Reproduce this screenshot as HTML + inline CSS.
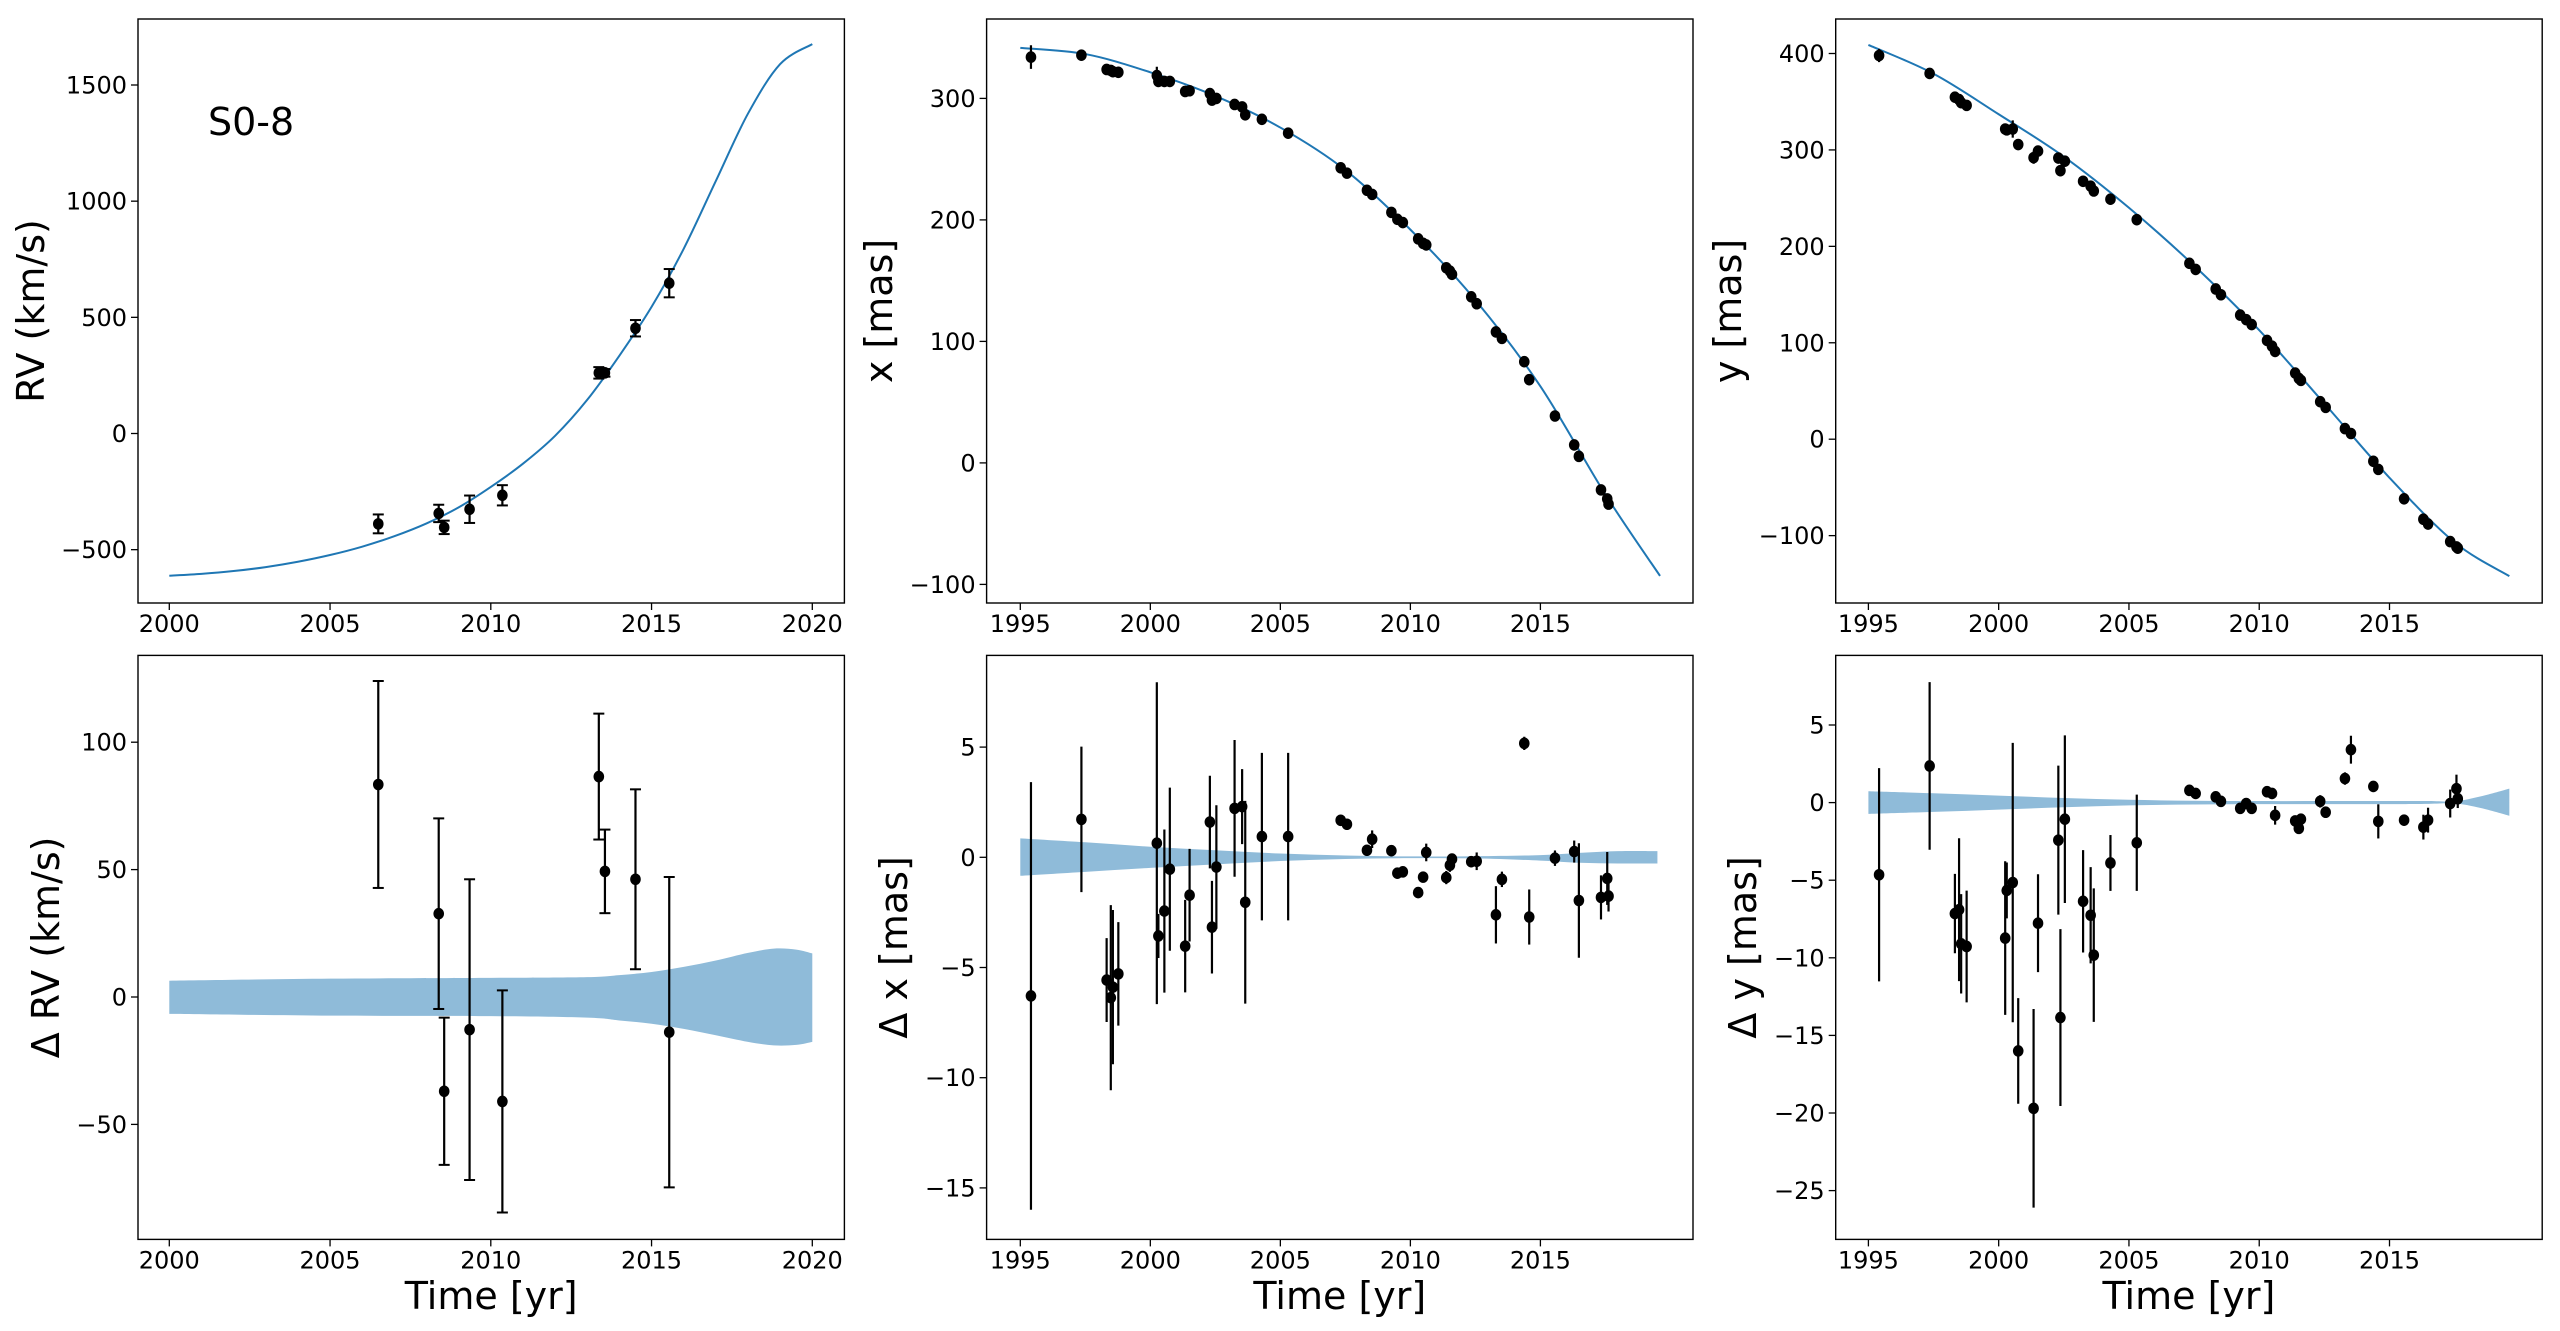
<!DOCTYPE html>
<html><head><meta charset="utf-8"><title>S0-8 orbit fit</title>
<style>
html,body{margin:0;padding:0;background:#fff;}
svg{display:block;font-family:"DejaVu Sans","Liberation Sans",sans-serif;}
</style></head>
<body>
<svg id="fig" width="2560" height="1331" viewBox="0 0 2560 1331" xmlns="http://www.w3.org/2000/svg"></svg>
<script>
// ---------- data ----------
const rvT = [2006.5, 2008.38, 2008.55, 2009.34, 2010.36, 2013.36, 2013.55, 2014.5, 2015.55];
const rvVal = [-389, -344, -404, -326, -266, 261, 261, 453, 647];
const rvErr = [40.6, 37.4, 28.9, 59, 43.6, 24.7, 16.4, 35.3, 60.9];
const drvVal = [83.4, 32.7, -37, -12.8, -41, 86.5, 49.3, 46.2, -13.8];

const rvModelT = [2000, 2001, 2002, 2003, 2004, 2005, 2006, 2007, 2008, 2009, 2010, 2011, 2012, 2013, 2014, 2015, 2016, 2017, 2018, 2019, 2020];
const rvModelV = [-612, -604, -592, -575, -552, -523, -487, -442, -387, -318, -230, -130, -10, 145, 335, 545, 795, 1087, 1377, 1590, 1676];
const rvBandT = [2000, 2005, 2010, 2013, 2014, 2015, 2016, 2017, 2018, 2018.8, 2019.5, 2020];
const rvBandHi = [6.4, 7.2, 7.5, 7.8, 8.6, 9.8, 11.8, 14.3, 17.3, 19, 18.6, 17.1];
const rvBandLo = [-6.6, -7.3, -7.5, -8.1, -9.2, -10.5, -12.5, -15, -17.6, -19, -18.8, -17.6];

const epochs = [1995.41,1997.35,1998.32,1998.48,1998.56,1998.77,2000.25,2000.31,2000.54,2000.75,2001.34,2001.51,2002.29,2002.37,2002.54,2003.24,2003.53,2003.65,2004.29,2005.3,2007.32,2007.56,2008.33,2008.53,2009.27,2009.5,2009.71,2010.3,2010.49,2010.61,2011.38,2011.52,2011.6,2012.34,2012.55,2013.29,2013.52,2014.38,2014.57,2015.56,2016.3,2016.48,2017.33,2017.57,2017.62];
const xVal = [334,335.6,323.8,323,322,321.5,318.8,314,314,314,305.7,306.3,304,298.6,300,295,293,286.5,282.8,271.4,242.9,238.5,224.4,221,206.2,200.5,197.8,184.4,180.7,179.4,160.6,157.9,155.2,136.7,131,107.8,102.5,83.3,68.5,38.6,14.8,5.4,-22.2,-29.6,-33.9];
const dxVal = [-6.29,1.72,-5.57,-6.37,-5.89,-5.29,0.64,-3.57,-2.44,-0.54,-4.03,-1.72,1.6,-3.17,-0.44,2.22,2.3,-2.04,0.94,0.94,1.68,1.5,0.32,0.82,0.3,-0.72,-0.66,-1.6,-0.9,0.22,-0.92,-0.36,-0.08,-0.2,-0.18,-2.61,-1.0,5.17,-2.71,-0.04,0.26,-1.96,-1.82,-0.96,-1.76];
const dxErr = [9.7,3.3,1.9,4.2,3.5,2.35,7.3,1.0,3.7,3.7,2.1,2.1,2.1,2.1,2.8,3.1,1.7,4.6,3.8,3.8,0.1,0.1,0.1,0.4,0.1,0.15,0.15,0.1,0.15,0.4,0.3,0.3,0.2,0.2,0.4,1.3,0.35,0.3,1.25,0.35,0.5,2.6,1.0,1.2,0.7];
const yVal = [397.9,379.3,354.7,352.2,349,346.2,321.7,320.8,321.7,305.6,292,298.8,291.6,278.5,288.3,267.5,262.4,257.4,248.9,227.7,182.4,176.1,155.8,149.8,128.7,124,118.9,102.4,96.5,91,68.6,63.1,61,38.9,33,11,5.9,-22.9,-31.3,-61.8,-83,-88,-106.2,-111.7,-113];
const dyVal = [-4.65,2.36,-7.15,-6.9,-9.1,-9.27,-8.73,-5.66,-5.15,-16.0,-19.7,-7.77,-2.42,-13.85,-1.07,-6.36,-7.26,-9.83,-3.89,-2.59,0.79,0.59,0.37,0.08,-0.37,-0.06,-0.37,0.7,0.59,-0.82,-1.18,-1.66,-1.07,0.08,-0.62,1.55,3.41,1.04,-1.21,-1.13,-1.58,-1.13,-0.06,0.9,0.25];
const dyErr = [6.87,5.4,2.56,4.6,3.2,3.6,4.95,1.8,9.0,3.4,6.4,3.15,4.8,5.7,5.4,3.3,3.1,4.3,1.8,3.1,0.2,0.2,0.2,0.2,0.2,0.2,0.2,0.2,0.2,0.6,0.3,0.3,0.3,0.4,0.2,0.4,0.9,0.2,1.1,0.3,0.8,0.8,0.9,0.9,0.6];

const xModelT = [1995, 1997.5, 2000, 2002.5, 2005, 2007.5, 2010, 2012.5, 2015, 2017.5, 2019.6];
const xModelV = [341.6, 336.5, 321.5, 302, 276, 241, 192, 134, 63, -26, -93];
const yModelT = [1995, 1997.5, 2000, 2002.5, 2005, 2007.5, 2010, 2012.5, 2015, 2017.5, 2019.6];
const yModelV = [408.9, 379, 337, 293, 240, 180, 113, 37, -40, -107, -142];

const dxBandT = [1995, 1997.5, 2000, 2002.5, 2005, 2007.5, 2010, 2012.5, 2015, 2016.5, 2018, 2019.5];
const dxBandHi = [0.86, 0.68, 0.48, 0.32, 0.17, 0.08, 0.04, 0.05, 0.1, 0.2, 0.28, 0.28];
const dxBandLo = [-0.84, -0.66, -0.48, -0.32, -0.17, -0.08, -0.04, -0.05, -0.15, -0.25, -0.28, -0.28];
const dyBandT = [1995, 1997.5, 2000, 2002.5, 2005, 2007.5, 2010, 2012.5, 2015, 2016.5, 2017.5, 2018.5, 2019.6];
const dyBandHi = [0.73, 0.6, 0.45, 0.3, 0.18, 0.12, 0.1, 0.1, 0.1, 0.1, 0.08, 0.4, 0.9];
const dyBandLo = [-0.73, -0.6, -0.45, -0.3, -0.18, -0.12, -0.1, -0.1, -0.1, -0.08, -0.05, -0.35, -0.85];

const ticksRVx = [2000, 2005, 2010, 2015, 2020];
const ticksXYx = [1995, 2000, 2005, 2010, 2015];
const ticksRV = [-500, 0, 500, 1000, 1500];
const ticksX = [-100, 0, 100, 200, 300];
const ticksY = [-100, 0, 100, 200, 300, 400];
const ticksDRV = [-50, 0, 50, 100];
const ticksDX = [-15, -10, -5, 0, 5];
const ticksDY = [-25, -20, -15, -10, -5, 0, 5];

// ---------- helpers ----------
const NS = "http://www.w3.org/2000/svg";
const svg = document.getElementById('fig');
function mk(tag, attrs, parent) {
  const e = document.createElementNS(NS, tag);
  for (const k in attrs) e.setAttribute(k, attrs[k]);
  (parent || svg).appendChild(e);
  return e;
}
function lin(v0, p0, v1, p1) { return v => p0 + (v - v0) * (p1 - p0) / (v1 - v0); }
function fmt(v) { return v < 0 ? '\u2212' + Math.abs(v) : String(v); }
function smooth(pts) {
  let d = 'M' + pts[0][0].toFixed(2) + ',' + pts[0][1].toFixed(2);
  for (let i = 0; i < pts.length - 1; i++) {
    const p0 = pts[Math.max(i - 1, 0)], p1 = pts[i], p2 = pts[i + 1], p3 = pts[Math.min(i + 2, pts.length - 1)];
    const c1 = [p1[0] + (p2[0] - p0[0]) / 6, p1[1] + (p2[1] - p0[1]) / 6];
    const c2 = [p2[0] - (p3[0] - p1[0]) / 6, p2[1] - (p3[1] - p1[1]) / 6];
    d += ' C' + c1[0].toFixed(2) + ',' + c1[1].toFixed(2) + ' ' + c2[0].toFixed(2) + ',' + c2[1].toFixed(2) + ' ' + p2[0].toFixed(2) + ',' + p2[1].toFixed(2);
  }
  return d;
}
function smoothCont(pts) { return smooth(pts).replace(/^M/, 'L'); }

function panel(cfg) {
  const g = mk('g', {});
  
  
  const [L, T, R, B] = cfg.box;
  const sx = cfg.sx, sy = cfg.sy;
  const cid = 'clip-' + cfg.name;
  const cp = mk('clipPath', { id: cid }, g);
  mk('rect', { x: L, y: T, width: R - L, height: B - T }, cp);
  const plot = mk('g', { 'clip-path': 'url(#' + cid + ')' }, g);
  
  

  if (cfg.band) {
    const [bt, hi, lo] = cfg.band;
    const top = bt.map((t, i) => [sx(t), sy(hi[i])]);
    const bot = bt.map((t, i) => [sx(t), sy(lo[i])]).reverse();
    const p = mk('path', { d: smooth(top) + ' ' + smoothCont(bot) + ' Z', fill: '#8fbbd9', stroke: 'none' }, plot);
    
    
  }
  if (cfg.model) {
    const [mt, mv] = cfg.model;
    const p = mk('path', { d: smooth(mt.map((t, i) => [sx(t), sy(mv[i])])), fill: 'none', stroke: '#1f77b4', 'stroke-width': 2 }, plot);
    
    
  }
  const [pt, pv, pe] = cfg.pts;
  pt.forEach((t, i) => {
    const x = sx(t), y = sy(pv[i]);
    const y1 = sy(pv[i] + pe[i]), y2 = sy(pv[i] - pe[i]);
    const eb = mk('line', { x1: x, y1: y1, x2: x, y2: y2, stroke: '#000', 'stroke-width': 2.2 }, plot);
    
    
    if (cfg.caps) {
      const c1 = mk('line', { x1: x - 5.5, y1: y1, x2: x + 5.5, y2: y1, stroke: '#000', 'stroke-width': 2 }, plot);
      
      
      const c2 = mk('line', { x1: x - 5.5, y1: y2, x2: x + 5.5, y2: y2, stroke: '#000', 'stroke-width': 2 }, plot);
      
      
    }
    const c = mk('ellipse', { cx: x, cy: y, rx: 5.3, ry: 5.8, fill: '#000' }, plot);
    
    
  });

  const frame = mk('rect', { x: L, y: T, width: R - L, height: B - T, fill: 'none', stroke: '#000', 'stroke-width': 1.4 }, g);
  
  

  cfg.xt.forEach(v => {
    const x = sx(v);
    const tk = mk('line', { x1: x, y1: B, x2: x, y2: B + 7, stroke: '#000', 'stroke-width': 1.3 }, g);
    
    
    const tl = mk('text', { x: x, y: B + 29, 'font-size': 24, 'text-anchor': 'middle', fill: '#000' }, g);
    
    
    tl.textContent = String(v);
  });
  cfg.yt.forEach(v => {
    const y = sy(v);
    const tk = mk('line', { x1: L - 7, y1: y, x2: L, y2: y, stroke: '#000', 'stroke-width': 1.3 }, g);
    
    
    const tl = mk('text', { x: L - 11, y: y + 8.5, 'font-size': 24, 'text-anchor': 'end', fill: '#000' }, g);
    
    
    tl.textContent = fmt(v);
  });
  const yl = mk('text', { x: 0, y: 0, 'font-size': 38, 'text-anchor': 'middle', fill: '#000', transform: 'translate(' + cfg.ylx + ',' + ((T + B) / 2) + ') rotate(-90)' }, g);
  
  
  yl.textContent = cfg.ylabel;
  if (cfg.xlabel) {
    const xl = mk('text', { x: (L + R) / 2, y: 1309, 'font-size': 38, 'text-anchor': 'middle', fill: '#000' }, g);
    
    
    xl.textContent = cfg.xlabel;
  }
  return g;
}

const sxA = lin(2000, 169.3, 2020, 812.3);
const sxB = lin(1995, 1020.3, 2015, 1540.4);
const sxC = lin(1995, 1868.4, 2015, 2389.5);

panel({ name: 'rv-panel', box: [138, 19, 844.4, 603], sx: sxA, sy: lin(0, 433.5, 1500, 85),
  model: [rvModelT, rvModelV], pts: [rvT, rvVal, rvErr], caps: true,
  xt: ticksRVx, yt: ticksRV, ylabel: 'RV (km/s)', ylx: 44 });
panel({ name: 'x-panel', box: [986.6, 19, 1693, 603], sx: sxB, sy: lin(0, 462.9, 300, 98.4),
  model: [xModelT, xModelV], pts: [epochs, xVal, dxErr],
  xt: ticksXYx, yt: ticksX, ylabel: 'x [mas]', ylx: 892 });
panel({ name: 'y-panel', box: [1835.7, 19, 2542.2, 603], sx: sxC, sy: lin(0, 439.2, 400, 53.5),
  model: [yModelT, yModelV], pts: [epochs, yVal, dyErr],
  xt: ticksXYx, yt: ticksY, ylabel: 'y [mas]', ylx: 1741 });
panel({ name: 'rv-residual-panel', box: [138, 655.4, 844.4, 1239.4], sx: sxA, sy: lin(0, 997, 100, 742.2),
  band: [rvBandT, rvBandHi, rvBandLo], pts: [rvT, drvVal, rvErr], caps: true,
  xt: ticksRVx, yt: ticksDRV, ylabel: '\u0394 RV (km/s)', ylx: 59, xlabel: 'Time [yr]' });
panel({ name: 'x-residual-panel', box: [986.6, 655.4, 1693, 1239.4], sx: sxB, sy: lin(0, 857.3, 5, 747.1),
  band: [dxBandT, dxBandHi, dxBandLo], pts: [epochs, dxVal, dxErr],
  xt: ticksXYx, yt: ticksDX, ylabel: '\u0394 x [mas]', ylx: 907, xlabel: 'Time [yr]' });
panel({ name: 'y-residual-panel', box: [1835.7, 655.4, 2542.2, 1239.4], sx: sxC, sy: lin(0, 802.6, 5, 725),
  band: [dyBandT, dyBandHi, dyBandLo], pts: [epochs, dyVal, dyErr],
  xt: ticksXYx, yt: ticksDY, ylabel: '\u0394 y [mas]', ylx: 1756, xlabel: 'Time [yr]' });

const star = mk('text', { x: 208, y: 135, 'font-size': 38, fill: '#000' });


star.textContent = 'S0-8';
</script>
</body></html>
